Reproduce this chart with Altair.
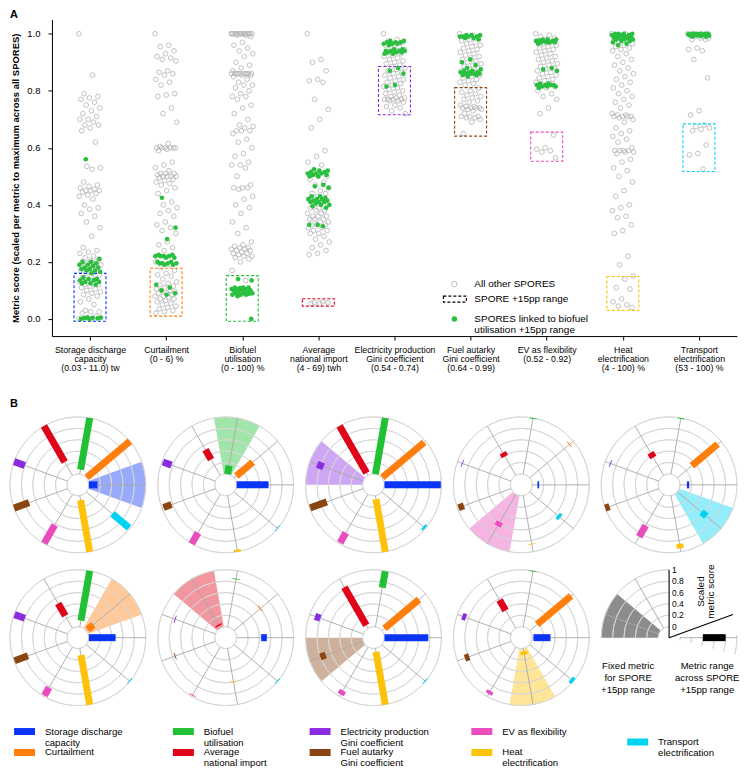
import json

import altair as alt
import numpy as np
import pandas as pd

FONT = "Liberation Sans"

metrics = [
    "Storage discharge capacity", "Curtailment", "Biofuel utilisation",
    "Average national import", "Electricity production Gini coefficient",
    "Fuel autarky Gini coefficient", "EV as flexibility",
    "Heat electrification", "Transport electrification",
]
tick_labels = [
    "Storage discharge|capacity|(0.03 - 11.0) tw",
    "Curtailment|(0 - 6) %",
    "Biofuel|utilisation|(0 - 100) %",
    "Average|national import|(4 - 69) twh",
    "Electricity production|Gini coefficient|(0.54 - 0.74)",
    "Fuel autarky|Gini coefficient|(0.64 - 0.99)",
    "EV as flexibility|(0.52 - 0.92)",
    "Heat|electrification|(4 - 100) %",
    "Transport|electrification|(53 - 100) %",
]
legend_labels = [
    "Storage discharge\ncapacity", "Curtailment", "Biofuel\nutilisation",
    "Average\nnational import", "Electricity production\nGini coefficient",
    "Fuel autarky\nGini coefficient", "EV as flexibility",
    "Heat\nelectrification", "Transport\nelectrification",
]
colors = ["#0b35f6", "#ff7f0e", "#21c035", "#e0041a", "#8a2be2",
          "#8b4513", "#ea4cbd", "#ffc20a", "#00d3f2"]
angles = [0, 40, 80, 120, 160, 200, 240, 280, 320]

# SPORE +15pp range per metric (panel A boxes)
range_lo = [-0.008, 0.010, -0.008, 0.045, 0.716, 0.641, 0.553, 0.030, 0.517]
range_hi = [0.160, 0.178, 0.152, 0.071, 0.885, 0.811, 0.655, 0.149, 0.684]

# panel A: scores of all other SPORES / SPORES linked to biofuel +15pp
storage_other = [1.0, 0.855, 0.79, 0.78, 0.775, 0.77, 0.76, 0.75, 0.74, 0.73, 0.72, 0.71, 0.70, 0.70,
                 0.69, 0.68, 0.68, 0.67, 0.66, 0.62, 0.535, 0.53, 0.525, 0.48, 0.47, 0.465, 0.46, 0.455,
                 0.45, 0.45, 0.45, 0.445, 0.44, 0.435, 0.43, 0.42, 0.40, 0.39, 0.385, 0.37, 0.36, 0.34,
                 0.32, 0.29, 0.25, 0.24, 0.235, 0.23, 0.22, 0.215, 0.21, 0.205, 0.2, 0.2, 0.195, 0.19,
                 0.19, 0.185, 0.18, 0.175, 0.17, 0.165, 0.16, 0.155, 0.15, 0.145, 0.14, 0.135, 0.13,
                 0.125, 0.12, 0.12, 0.115, 0.11, 0.105, 0.10, 0.095, 0.09, 0.085, 0.08, 0.07, 0.06,
                 0.05, 0.03, 0.025, 0.025, 0.02, 0.01, 0.005, 0.0, 0.0]
storage_linked = [0.56, 0.21, 0.2, 0.2, 0.195, 0.19, 0.19, 0.185, 0.18, 0.18, 0.175, 0.175, 0.17, 0.17,
                  0.165, 0.16, 0.145, 0.14, 0.14, 0.135, 0.135, 0.13, 0.13, 0.125, 0.125, 0.12, 0.005,
                  0.005, 0.004, 0.003, 0.002, 0.0, 0.0]
curtail_other = [1.0, 0.96, 0.955, 0.94, 0.93, 0.92, 0.915, 0.91, 0.905, 0.87, 0.865, 0.86, 0.855, 0.84,
                 0.83, 0.82, 0.79, 0.785, 0.78, 0.74, 0.72, 0.69, 0.615, 0.605, 0.6, 0.6, 0.6, 0.6, 0.6,
                 0.6, 0.595, 0.59, 0.55, 0.54, 0.53, 0.52, 0.51, 0.51, 0.51, 0.505, 0.5, 0.5, 0.5, 0.5,
                 0.495, 0.49, 0.485, 0.48, 0.475, 0.47, 0.46, 0.45, 0.44, 0.41, 0.4, 0.39, 0.38, 0.37,
                 0.36, 0.34, 0.33, 0.32, 0.31, 0.30, 0.27, 0.26, 0.25, 0.24, 0.2, 0.19, 0.18, 0.17, 0.16,
                 0.155, 0.15, 0.14, 0.13, 0.125, 0.12, 0.115, 0.11, 0.105, 0.1, 0.1, 0.095, 0.09, 0.09,
                 0.085, 0.08, 0.08, 0.075, 0.07, 0.07, 0.065, 0.06, 0.055, 0.05, 0.045, 0.04, 0.035,
                 0.03, 0.025, 0.02]
curtail_linked = [0.425, 0.32, 0.28, 0.225, 0.225, 0.22, 0.22, 0.22, 0.22, 0.215, 0.215, 0.2, 0.2, 0.195,
                  0.195, 0.195, 0.195, 0.19, 0.19, 0.12, 0.11, 0.1, 0.09, 0.085]
biofuel_other = [1.0, 1.0, 1.0, 1.0, 1.0, 1.0, 1.0, 1.0, 1.0, 1.0, 1.0, 1.0, 1.0, 1.0, 0.995, 0.995, 0.99,
                 0.97, 0.96, 0.95, 0.94, 0.93, 0.92, 0.9, 0.89, 0.88, 0.87, 0.86, 0.86, 0.86, 0.86, 0.86,
                 0.86, 0.86, 0.86, 0.86, 0.86, 0.855, 0.855, 0.85, 0.84, 0.83, 0.82, 0.82, 0.81, 0.8, 0.79,
                 0.78, 0.78, 0.77, 0.75, 0.74, 0.72, 0.7, 0.68, 0.675, 0.67, 0.66, 0.66, 0.66, 0.65, 0.63,
                 0.62, 0.6, 0.58, 0.57, 0.55, 0.54, 0.54, 0.53, 0.5, 0.47, 0.46, 0.46, 0.46, 0.455, 0.43,
                 0.42, 0.4, 0.39, 0.37, 0.34, 0.32, 0.3, 0.27, 0.26, 0.255, 0.25, 0.25, 0.245, 0.245, 0.24,
                 0.24, 0.235, 0.23, 0.23, 0.225, 0.22, 0.22, 0.215, 0.21, 0.2, 0.17, 0.135]
biofuel_linked = [0.14, 0.135, 0.11, 0.11, 0.11, 0.108, 0.105, 0.105, 0.105, 0.1, 0.1, 0.1, 0.095, 0.095,
                  0.09, 0.09, 0.09, 0.088, 0.085, 0.085, 0.085, 0.08, 0.0]
import_other = [1.0, 0.91, 0.9, 0.87, 0.84, 0.835, 0.83, 0.77, 0.735, 0.7, 0.67, 0.59, 0.57, 0.55, 0.54,
                0.52, 0.5, 0.5, 0.49, 0.48, 0.47, 0.46, 0.45, 0.44, 0.44, 0.43, 0.42, 0.41, 0.4, 0.4, 0.39,
                0.39, 0.38, 0.38, 0.37, 0.37, 0.36, 0.36, 0.36, 0.35, 0.35, 0.35, 0.34, 0.34, 0.33, 0.33,
                0.33, 0.32, 0.32, 0.31, 0.31, 0.3, 0.3, 0.29, 0.28, 0.27, 0.26, 0.25, 0.24, 0.23, 0.225,
                0.06, 0.058, 0.057, 0.055, 0.054]
import_linked = [0.525, 0.52, 0.52, 0.515, 0.515, 0.51, 0.51, 0.51, 0.505, 0.505, 0.5, 0.5, 0.47, 0.465,
                 0.46, 0.43, 0.43, 0.425, 0.42, 0.42, 0.42, 0.415, 0.415, 0.41, 0.41, 0.41, 0.405, 0.4,
                 0.4, 0.395, 0.39, 0.33, 0.33, 0.325]
elecgini_other = [1.0, 0.98, 0.975, 0.97, 0.965, 0.96, 0.955, 0.95, 0.945, 0.94, 0.935, 0.93, 0.925, 0.92,
                  0.915, 0.91, 0.905, 0.9, 0.895, 0.89, 0.885, 0.88, 0.875, 0.87, 0.865, 0.86, 0.855, 0.85,
                  0.845, 0.84, 0.835, 0.83, 0.825, 0.82, 0.815, 0.81, 0.805, 0.8, 0.795, 0.79, 0.785, 0.78,
                  0.775, 0.775, 0.77, 0.77, 0.77, 0.77, 0.765, 0.765, 0.76, 0.75, 0.745, 0.74, 0.73, 0.72]
elecgini_linked = [0.975, 0.975, 0.97, 0.97, 0.97, 0.965, 0.965, 0.965, 0.96, 0.945, 0.945, 0.94, 0.94,
                   0.94, 0.94, 0.935, 0.935, 0.935, 0.93, 0.93, 0.88, 0.87, 0.86, 0.82, 0.815]
autarky_other = [1.0, 0.995, 0.99, 0.985, 0.98, 0.975, 0.97, 0.965, 0.96, 0.955, 0.95, 0.945, 0.94, 0.935,
                 0.93, 0.925, 0.92, 0.915, 0.91, 0.905, 0.9, 0.895, 0.89, 0.885, 0.88, 0.875, 0.87, 0.865,
                 0.86, 0.855, 0.85, 0.845, 0.84, 0.835, 0.83, 0.825, 0.82, 0.81, 0.8, 0.795, 0.79, 0.785,
                 0.78, 0.775, 0.77, 0.765, 0.76, 0.75, 0.745, 0.745, 0.74, 0.74, 0.74, 0.74, 0.735, 0.735,
                 0.73, 0.72, 0.71, 0.71, 0.71, 0.705, 0.705, 0.7, 0.69, 0.65]
autarky_linked = [0.995, 0.995, 0.995, 0.99, 0.99, 0.99, 0.99, 0.985, 0.985, 0.98, 0.91, 0.9, 0.89, 0.88,
                  0.875, 0.87, 0.87, 0.865, 0.865, 0.865, 0.86, 0.86, 0.86, 0.86, 0.855, 0.855, 0.85]
ev_other = [1.0, 0.995, 0.99, 0.985, 0.98, 0.975, 0.97, 0.965, 0.96, 0.955, 0.95, 0.945, 0.94, 0.935, 0.93,
            0.925, 0.92, 0.915, 0.91, 0.905, 0.9, 0.895, 0.89, 0.885, 0.88, 0.875, 0.87, 0.865, 0.86, 0.855,
            0.85, 0.845, 0.84, 0.835, 0.83, 0.825, 0.82, 0.815, 0.81, 0.8, 0.79, 0.78, 0.77, 0.74, 0.72,
            0.645, 0.6, 0.595, 0.59, 0.585, 0.565]
ev_linked = [0.98, 0.98, 0.98, 0.975, 0.975, 0.975, 0.975, 0.97, 0.97, 0.97, 0.97, 0.965, 0.88, 0.875,
             0.87, 0.825, 0.825, 0.82, 0.82, 0.82, 0.82, 0.815, 0.815, 0.815, 0.81]
heat_other = [1.0, 1.0, 0.995, 0.99, 0.985, 0.98, 0.975, 0.97, 0.965, 0.96, 0.955, 0.95, 0.945, 0.94, 0.93,
              0.92, 0.91, 0.9, 0.89, 0.88, 0.87, 0.86, 0.85, 0.84, 0.83, 0.82, 0.81, 0.8, 0.79, 0.78, 0.77,
              0.76, 0.75, 0.74, 0.72, 0.715, 0.715, 0.71, 0.71, 0.71, 0.71, 0.705, 0.7, 0.69, 0.67, 0.66,
              0.65, 0.64, 0.63, 0.62, 0.6, 0.59, 0.59, 0.59, 0.59, 0.585, 0.585, 0.58, 0.56, 0.55, 0.53,
              0.52, 0.5, 0.48, 0.45, 0.43, 0.4, 0.39, 0.38, 0.36, 0.355, 0.33, 0.31, 0.3, 0.22, 0.19, 0.15,
              0.14, 0.11, 0.105, 0.07, 0.06, 0.05, 0.045, 0.04]
heat_linked = [1.0, 1.0, 1.0, 1.0, 0.995, 0.995, 0.995, 0.99, 0.99, 0.99, 0.99, 0.985, 0.985, 0.985, 0.98,
               0.98, 0.98, 0.975, 0.975, 0.97, 0.965, 0.96]
transport_other = [1.0, 1.0, 1.0, 1.0, 0.995, 0.995, 0.99, 0.99, 0.985, 0.985, 0.98, 0.98, 0.95, 0.945,
                   0.94, 0.91, 0.845, 0.73, 0.715, 0.68, 0.675, 0.67, 0.665, 0.66, 0.61, 0.58, 0.575, 0.525]
transport_linked = [1.0, 1.0, 1.0, 1.0, 1.0, 1.0, 0.998, 0.998, 0.997, 0.997, 0.996, 0.995, 0.995, 0.994,
                    0.993, 0.992, 0.99, 0.99]

other_sets = [storage_other, curtail_other, biofuel_other, import_other, elecgini_other,
              autarky_other, ev_other, heat_other, transport_other]
linked_sets = [storage_linked, curtail_linked, biofuel_linked, import_linked, elecgini_linked,
               autarky_linked, ev_linked, heat_linked, transport_linked]

# panel B: fixed metric of each SPORE and metric ranges (scaled score) across it
panel_fixed = [0, 2, 4, 6, 8, 1, 3, 5, 7]
panel_lo = [
    [0.00, 0.01, 0.08, 0.27, 0.80, 0.72, 0.62, 0.08, 0.60],
    [0.00, 0.05, 0.00, 0.32, 0.82, 0.82, 0.78, 0.96, 0.985],
    [0.00, 0.01, 0.00, 0.05, 0.74, 0.68, 0.78, 0.06, 0.95],
    [0.09, 0.905, 0.985, 0.38, 0.90, 0.88, 0.56, 0.855, 0.64],
    [0.12, 0.33, 0.985, 0.36, 0.895, 0.92, 0.63, 0.86, 0.55],
    [0.00, 0.03, 0.11, 0.25, 0.80, 0.74, 0.82, 0.12, 0.985],
    [0.43, 0.595, 0.845, 0.045, 0.745, 0.745, 0.965, 0.585, 0.985],
    [0.00, 0.06, 0.70, 0.06, 0.80, 0.70, 0.88, 0.06, 0.985],
    [0.02, 0.17, 0.985, 0.36, 0.84, 0.78, 0.89, 0.05, 0.94],
]
panel_hi = [
    [0.15, 1.00, 1.00, 1.00, 1.00, 1.00, 0.99, 1.00, 0.98],
    [0.56, 0.43, 0.15, 0.52, 0.98, 0.97, 1.00, 1.00, 1.00],
    [0.99, 0.97, 1.00, 1.00, 0.86, 0.99, 0.98, 1.00, 0.99],
    [0.12, 0.92, 1.00, 0.46, 0.915, 0.98, 0.64, 0.87, 0.70],
    [0.16, 0.92, 1.00, 0.46, 0.91, 1.00, 0.86, 0.94, 0.66],
    [0.47, 0.16, 1.00, 0.50, 0.99, 0.99, 0.98, 1.00, 1.00],
    [0.53, 0.61, 0.86, 0.07, 0.76, 0.76, 0.98, 0.60, 1.00],
    [0.77, 0.85, 0.99, 0.83, 0.90, 0.80, 0.96, 1.00, 1.00],
    [0.32, 0.95, 1.00, 0.57, 0.91, 0.86, 0.95, 0.11, 1.00],
]

GRAY = "#b3b3b3"
GREEN = "#2bbf3f"
CS = alt.Scale(domain=metrics, range=colors)
one = pd.DataFrame({"k": [0]})
FULL_W = 728  # whole figure width, so the page does not get wider than the window


def panel_letter(letter, dy):
    return alt.Chart(one).mark_text(
        align="left", baseline="top", fontSize=11, fontWeight="bold"
    ).encode(x=alt.value(0), y=alt.value(dy), text=alt.value(letter))


# ---------------- panel A ----------------
rows = []
for i, (oth, lnk) in enumerate(zip(other_sets, linked_sets)):
    for k, v in enumerate(oth):
        rows.append({"idx": i, "score": v, "kind": "other", "k": k})
    for k, v in enumerate(lnk):
        rows.append({"idx": i, "score": v, "kind": "linked", "k": k + 0.5})
pts = pd.DataFrame(rows)
# deterministic horizontal spread inside each strip
pts["xp"] = pts["idx"] + 0.145 * (((pts["k"] * 0.618034) % 1.0) * 2 - 1)

boxes = pd.DataFrame({"metric": metrics, "idx": range(9), "lo": range_lo, "hi": range_hi})
boxes["x1"] = boxes["idx"] - 0.21
boxes["x2"] = boxes["idx"] + 0.21

PLOT_LEFT = 42  # room for the y axis inside panel A's own box
xs_a = alt.Scale(domain=[-0.5, 8.5], range=[PLOT_LEFT, FULL_W], nice=False, zero=False)
ys_a = alt.Scale(domain=[-0.06, 1.05], nice=False, zero=False)
x_axis = alt.Axis(
    values=list(range(9)), title=None, labelAngle=0, labelFontSize=8.8,
    labelLineHeight=9.3, tickSize=4, labelPadding=5, labelOverlap=False, labelFlush=False,
    labelExpr="split(" + json.dumps(tick_labels) + "[datum.value], '|')",
)
y_axis = alt.Axis(
    values=[0, 0.2, 0.4, 0.6, 0.8, 1.0], format=".1f", tickSize=4, labelPadding=8, offset=-PLOT_LEFT,
    labelFontSize=9.5, title="Metric score (scaled per metric to maximum across all SPORES)",
    titleFontSize=9.5, titleFontWeight="bold", titlePadding=6,
)

gray_pts = alt.Chart(pts[pts["kind"] == "other"]).mark_point(
    shape="circle", filled=False, color=GRAY, size=22, strokeWidth=0.8, opacity=1
).encode(x=alt.X("xp:Q", scale=xs_a, axis=x_axis), y=alt.Y("score:Q", scale=ys_a, axis=y_axis))

box_marks = alt.Chart(boxes).mark_rect(filled=False, strokeDash=[3, 2], strokeWidth=1.1).encode(
    x=alt.X("x1:Q", scale=xs_a), x2="x2:Q", y=alt.Y("lo:Q", scale=ys_a), y2="hi:Q",
    color=alt.Color("metric:N", scale=CS, legend=None),
)

green_pts = alt.Chart(pts[pts["kind"] == "linked"]).mark_circle(color=GREEN, size=22, opacity=1).encode(
    x=alt.X("xp:Q", scale=xs_a), y=alt.Y("score:Q", scale=ys_a)
)

key_a = [
    alt.Chart(one).mark_point(shape="circle", filled=False, color=GRAY, size=30, strokeWidth=0.9, opacity=1)
    .encode(x=alt.value(445), y=alt.value(265)),
    alt.Chart(one).mark_rect(filled=False, color="black", stroke="black", strokeDash=[3, 2], strokeWidth=1.1)
    .encode(x=alt.value(434), x2=alt.value(457), y=alt.value(277), y2=alt.value(283)),
    alt.Chart(one).mark_circle(color=GREEN, size=30, opacity=1).encode(x=alt.value(445), y=alt.value(300)),
]
for txt, ty in [("All other SPORES", 265), ("SPORE +15pp range", 280),
                ("SPORES linked to biofuel\nutilisation +15pp range", 299.5)]:
    key_a.append(
        alt.Chart(one).mark_text(align="left", baseline="middle", fontSize=10, lineBreak="\n", lineHeight=11)
        .encode(x=alt.value(465), y=alt.value(ty), text=alt.value(txt))
    )

panel_a = alt.layer(gray_pts, box_marks, green_pts, *key_a, panel_letter("A", -11)).properties(
    width=FULL_W, height=317,
)

# ---------------- panel B ----------------
HOLE = 11 / 57
OUT = 1 + HOLE
SIDE = 136
XS = alt.Scale(domain=[-OUT, OUT], nice=False, zero=False)
YS = alt.Scale(domain=[-OUT, OUT], nice=False, zero=False)
RS = alt.Scale(type="linear", domain=[0, OUT], range=[0, SIDE / 2], nice=False, zero=True)


def radial(df, lo, hi):
    a = np.radians(df["ang"].astype(float))
    df = df.copy()
    df["x1"] = (HOLE + lo) * np.cos(a)
    df["y1"] = (HOLE + lo) * np.sin(a)
    df["x2"] = (HOLE + hi) * np.cos(a)
    df["y2"] = (HOLE + hi) * np.sin(a)
    return df


def rule_layer(df, by_metric=False, **mark):
    enc = dict(x=alt.X("x1:Q", scale=XS, axis=None), y=alt.Y("y1:Q", scale=YS, axis=None),
               x2="x2:Q", y2="y2:Q")
    if by_metric:
        enc["color"] = alt.Color("metric:N", scale=CS, legend=None)
    return alt.Chart(df).mark_rule(**mark).encode(**enc)


def arc_layer(df, by_metric=False, **mark):
    enc = dict(theta=alt.Theta("t1:Q", scale=None, stack=None), theta2="t2:Q",
               radius=alt.Radius("r1:Q", scale=RS, stack=None), radius2="r2:Q")
    if by_metric:
        enc["color"] = alt.Color("metric:N", scale=CS, legend=None)
    return alt.Chart(df).mark_arc(**mark).encode(**enc)


def ring_df(t1, t2):
    r = [HOLE + s for s in [0, 0.2, 0.4, 0.6, 0.8, 1.0]]
    return pd.DataFrame({"r1": r, "r2": r, "t1": t1, "t2": t2})


def spokes_df(angs):
    d = pd.DataFrame({"ang": angs})
    return radial(d, 0.0, 1.0)


def polar_panel(p):
    f = panel_fixed[p]
    wedge = pd.DataFrame({
        "metric": [metrics[f]],
        "t1": [np.radians(90 - angles[f] - 20)], "t2": [np.radians(90 - angles[f] + 20)],
        "r1": [OUT], "r2": [HOLE],
    })
    bars = pd.DataFrame({"metric": metrics, "ang": angles})
    bars = radial(bars, np.array(panel_lo[p]), np.array(panel_hi[p]))
    layers = [
        arc_layer(wedge, by_metric=True, opacity=0.42),
        arc_layer(ring_df(0, 2 * np.pi), filled=False, color="#d6d6d6", strokeWidth=0.9),
        rule_layer(spokes_df(angles), color="#a8a8a8", strokeWidth=0.9),
        rule_layer(bars, by_metric=True, strokeWidth=7, strokeCap="butt"),
    ]
    if p == 0:
        layers.append(panel_letter("B", -19))
    return alt.layer(*layers).properties(width=SIDE, height=SIDE)


def key_panel():
    wedge = pd.DataFrame({"t1": [np.radians(-90)], "t2": [np.radians(-50)], "r1": [OUT], "r2": [HOLE]})
    bar = radial(pd.DataFrame({"ang": [0]}), 0.4, 0.8)
    axis_line = pd.DataFrame({"x1": [0.0, 0.0], "y1": [0.0, 0.0],
                              "x2": [0.0, OUT * np.cos(np.radians(20))],
                              "y2": [OUT, OUT * np.sin(np.radians(20))]})
    ticks = pd.DataFrame({"v": [0, 0.2, 0.4, 0.6, 0.8, 1.0],
                          "lab": ["0", "0.2", "0.4", "0.6", "0.8", "1"]})
    ticks["x"] = 0.05
    ticks["y"] = HOLE + ticks["v"]
    notes = pd.DataFrame({
        "x": [-0.72, 0.67], "y": [-0.49, -0.49],
        "txt": ["Fixed metric\nfor SPORE\n+15pp range", "Metric range\nacross SPORE\n+15pp range"],
    })
    title_df = pd.DataFrame({"x": [0.56], "y": [0.81], "txt": ["Scaled\nmetric score"]})
    return alt.layer(
        arc_layer(wedge, color="#8c8c8c", opacity=1),
        arc_layer(ring_df(np.radians(-90), 0), filled=False, color="#d6d6d6", strokeWidth=0.9),
        arc_layer(ring_df(np.radians(88), np.radians(104)), filled=False, color="#d6d6d6", strokeWidth=0.9),
        rule_layer(spokes_df([0, 120, 160]), color="#a8a8a8", strokeWidth=0.9),
        rule_layer(bar, color="black", strokeWidth=7, strokeCap="butt"),
        rule_layer(axis_line, color="black", strokeWidth=1.1),
        alt.Chart(ticks).mark_text(align="left", baseline="middle", fontSize=8.5).encode(
            x=alt.X("x:Q", scale=XS, axis=None), y=alt.Y("y:Q", scale=YS, axis=None), text="lab:N"),
        alt.Chart(notes).mark_text(align="center", baseline="middle", fontSize=9.6, lineBreak="\n",
                                   lineHeight=12).encode(
            x=alt.X("x:Q", scale=XS, axis=None), y=alt.Y("y:Q", scale=YS, axis=None), text="txt:N"),
        alt.Chart(title_df).mark_text(align="center", baseline="middle", fontSize=10, angle=270,
                                      lineBreak="\n", lineHeight=10).encode(
            x=alt.X("x:Q", scale=XS, axis=None), y=alt.Y("y:Q", scale=YS, axis=None), text="txt:N"),
    ).properties(width=SIDE, height=SIDE)


# flush bounds: lay the circles out by their nominal size, not by the stroke overhang of the bars
row1 = alt.hconcat(*[polar_panel(p) for p in range(5)], spacing=12, bounds="flush")
row2 = alt.hconcat(*[polar_panel(p) for p in range(5, 9)], key_panel(), spacing=12, bounds="flush")
panel_b = alt.vconcat(row1, row2, spacing=8)

# ---------------- bottom legend ----------------
legend_colpos = [0.0, 1.036, 1.928, 2.983, 4.0]
leg = pd.DataFrame({"metric": metrics, "label": legend_labels})
leg["col"] = [legend_colpos[i // 2] for i in range(9)]
leg["row"] = [0.5 if i == 8 else i % 2 for i in range(9)]
leg["xs"] = leg["col"] + 0.095
leg["xt"] = leg["col"] + 0.228
lx = alt.Scale(domain=[0, FULL_W / 153.5], nice=False, zero=False)
ly = alt.Scale(domain=[-0.381, 1.524], nice=False, zero=False, reverse=True)
swatch = alt.Chart(leg).mark_point(
    shape="M-1,-0.333H1V0.333H-1Z", filled=True, size=441, opacity=1, strokeWidth=0
).encode(
    x=alt.X("xs:Q", scale=lx, axis=None), y=alt.Y("row:Q", scale=ly, axis=None),
    color=alt.Color("metric:N", scale=CS, legend=None),
)
leg_text = alt.Chart(leg).mark_text(
    align="left", baseline="middle", fontSize=9.6, lineBreak="\n", lineHeight=11
).encode(x=alt.X("xt:Q", scale=lx, axis=None), y=alt.Y("row:Q", scale=ly, axis=None), text="label:N")
legend_b = alt.layer(swatch, leg_text).properties(width=FULL_W, height=40)

lower = alt.vconcat(panel_b, legend_b, spacing=15)
chart = alt.vconcat(panel_a, lower, spacing=25, padding=0).configure(
    font=FONT
).configure_view(stroke=None).configure_axis(
    grid=False, domainColor="black", tickColor="black", labelColor="black", titleColor="black",
    labelFont=FONT, titleFont=FONT,
).configure_title(font=FONT, color="black")

chart.save("out.html", embed_options={"renderer": "svg", "actions": False})
